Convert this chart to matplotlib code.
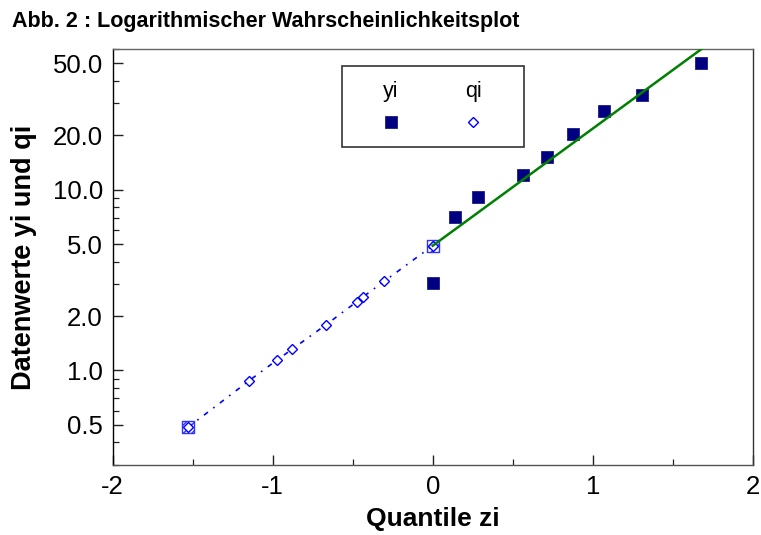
import numpy as np
import matplotlib
matplotlib.use("Agg")
import matplotlib.pyplot as plt
from matplotlib import font_manager
from matplotlib.patches import Rectangle
from matplotlib.ticker import FixedLocator, LogLocator, NullFormatter

# data
z_yi = [0.0, 0.141, 0.281, 0.566, 0.714, 0.877, 1.07, 1.31, 1.675]
yi = [3.05, 7.1, 9.1, 12.1, 15.1, 20.2, 27.2, 33.2, 50.0]

z_qi = [-1.529, -1.146, -0.975, -0.879, -0.667, -0.475, -0.434, -0.304, 0.0]
qi = [0.485, 0.88, 1.14, 1.31, 1.79, 2.40, 2.56, 3.11, 4.9]

# fitted line continued for z >= 0
z_fit = [0.0, 1.68]
y_fit = [4.9, 60.0]

y_ticks = [0.5, 1.0, 2.0, 5.0, 10.0, 20.0, 50.0]
y_ticklabels = ["0.5", "1.0", "2.0", "5.0", "10.0", "20.0", "50.0"]
x_ticks = [-2, -1, 0, 1, 2]

names = {f.name for f in font_manager.fontManager.ttflist}
base = "Liberation Sans" if "Liberation Sans" in names else "DejaVu Sans"
plt.rcParams["font.family"] = [base, "DejaVu Sans"]
plt.rcParams["axes.unicode_minus"] = False
if "Liberation Sans Narrow" in names:
    title_font, title_size = "Liberation Sans Narrow", 18
else:
    title_font, title_size = base, 15.5

fig = plt.figure(figsize=(7.61, 5.35), dpi=100)
ax = fig.add_axes([0.1481, 0.1308, 0.8410, 0.7776])

ax.plot(z_qi, qi, color="blue", lw=1.2, ls=(0, (3, 4, 1, 4)), zorder=2)
ax.scatter([z_qi[0], z_qi[-1]], [qi[0], qi[-1]], marker="s", s=75,
           facecolor="none", edgecolor="#3030ff", hatch="////", lw=1.0, zorder=3)
ax.plot(z_qi, qi, ls="none", marker="D", ms=5.6, mfc="white", mec="blue",
        mew=1.0, zorder=4)
ax.plot(z_yi, yi, ls="none", marker="s", ms=8.6, mfc="#000080", mec="#1a1a8a",
        mew=0.6, zorder=5)
ax.plot(z_fit, y_fit, color="#008000", lw=1.8, zorder=6)

ax.set_yscale("log")
ax.set_xlim(-2, 2)
ax.set_ylim(0.3, 60)
ax.yaxis.set_major_locator(FixedLocator(y_ticks))
ax.set_yticklabels(y_ticklabels)
ax.yaxis.set_minor_locator(LogLocator(subs=np.arange(1, 10)))
ax.yaxis.set_minor_formatter(NullFormatter())
ax.set_xticks(x_ticks)
ax.set_xticks([-1.5, -0.5, 0.5, 1.5], minor=True)

ax.tick_params(which="both", direction="in", labelsize=18.5, colors="#222222",
               top=False, right=False)
ax.tick_params(which="major", length=7.2, width=1.0, pad=7)
ax.tick_params(which="minor", length=4.3, width=0.9)
for lab in ax.get_xticklabels() + ax.get_yticklabels():
    lab.set_color("black")
for side, c in [("left", "black"), ("bottom", "#555555"),
                ("top", "#666666"), ("right", "#333333")]:
    ax.spines[side].set_color(c)
    ax.spines[side].set_linewidth(1.0)

ax.set_xlabel("Quantile zi", fontsize=19, fontweight="bold", labelpad=6)
ax.set_ylabel("Datenwerte yi und qi", fontsize=19.5, fontweight="bold", labelpad=11)

fig.text(11.7 / 761, 1 - 22 / 535, "Abb. 2 : Logarithmischer Wahrscheinlichkeitsplot",
         family=[title_font, "DejaVu Sans"], fontsize=title_size, fontweight="bold",
         ha="left", va="center")

# legend box with labels above the markers
ax.add_patch(Rectangle((0.358, 0.764), 0.285, 0.196, transform=ax.transAxes,
                       facecolor="white", edgecolor="#333333", lw=1.2, zorder=7))
ax.text(0.435, 0.897, "yi", transform=ax.transAxes, fontsize=15.5,
        ha="center", va="center", zorder=8)
ax.text(0.563, 0.897, "qi", transform=ax.transAxes, fontsize=15.5,
        ha="center", va="center", zorder=8)
ax.plot([0.435], [0.824], transform=ax.transAxes, marker="s", ms=8.6,
        mfc="#000080", mec="#1a1a8a", mew=0.6, ls="none", zorder=8)
ax.plot([0.563], [0.824], transform=ax.transAxes, marker="D", ms=5.6,
        mfc="white", mec="blue", mew=1.0, ls="none", zorder=8)

fig.savefig("out.png", dpi=100)
